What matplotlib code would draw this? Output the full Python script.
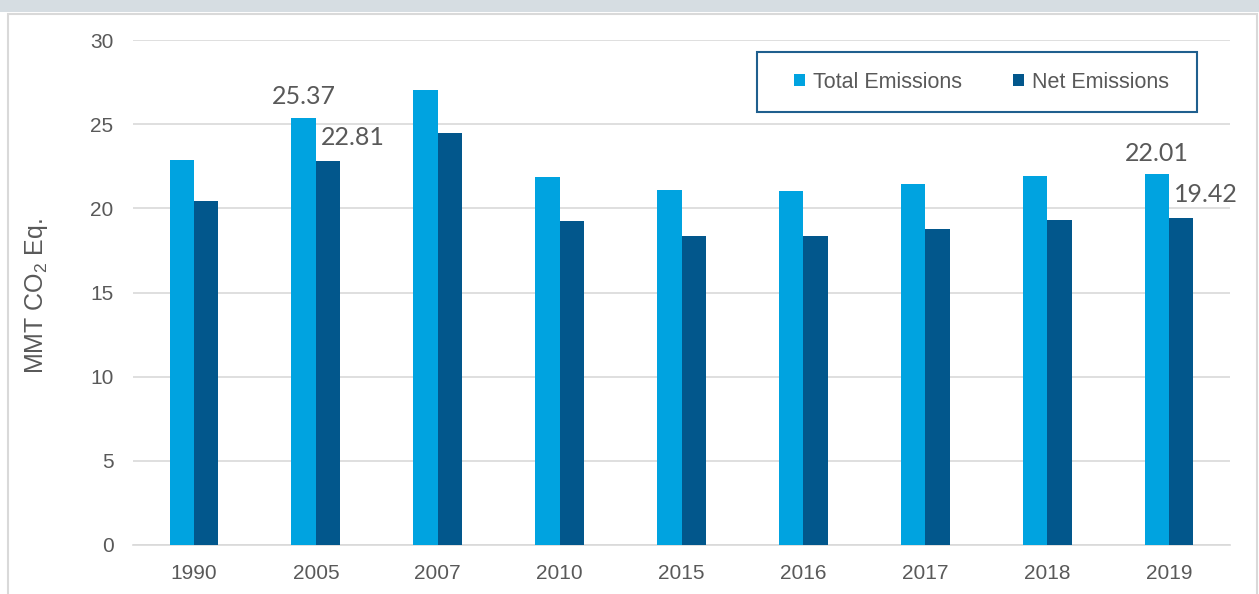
import matplotlib
matplotlib.use("Agg")
import matplotlib.pyplot as plt
import numpy as np
from matplotlib.patches import Rectangle

years = ["1990", "2005", "2007", "2010", "2015", "2016", "2017", "2018", "2019"]
total_emissions = [22.87, 25.37, 27.03, 21.88, 21.09, 21.05, 21.47, 21.90, 22.01]
net_emissions = [20.46, 22.81, 24.48, 19.27, 18.36, 18.36, 18.78, 19.31, 19.42]
labeled_years = ["2005", "2019"]
yticks = [0, 5, 10, 15, 20, 25, 30]

C_TOTAL = "#00A3E0"
C_NET = "#02578C"
TXT = "#595959"

plt.rcParams['font.family'] = ['Liberation Sans', 'DejaVu Sans']
plt.rcParams['mathtext.fontset'] = 'custom'
plt.rcParams['mathtext.rm'] = 'Liberation Sans'
plt.rcParams['mathtext.it'] = 'Liberation Sans'

W, H = 1259, 594
fig = plt.figure(figsize=(W / 100, H / 100), dpi=100)
fig.patch.set_facecolor("white")

# top band and outer frame
fig.patches.append(Rectangle((0, 1 - 12 / H), 1, 12 / H, transform=fig.transFigure,
                             facecolor="#D6DDE2", edgecolor="none", zorder=0))
fig.patches.append(Rectangle((8 / W, -0.05), (1257 - 8) / W, 1 - 14 / H + 0.05,
                             transform=fig.transFigure, facecolor="none",
                             edgecolor="#D9D9D9", linewidth=1.5, zorder=0))

ax = fig.add_axes([133 / W, 1 - 545 / H, (1230 - 133) / W, (545 - 40) / H])
ax.set_facecolor("none")

x = np.arange(len(years))
bw = 0.2
b1 = ax.bar(x - bw / 2, total_emissions, bw, color=C_TOTAL, label="Total Emissions", zorder=3)
b2 = ax.bar(x + bw / 2, net_emissions, bw, color=C_NET, label="Net Emissions", zorder=3)

ax.set_xlim(-0.5, len(years) - 0.5)
ax.set_ylim(0, 30)
ax.set_yticks(yticks)
ax.set_xticks(x)
ax.set_xticklabels(years)
ax.tick_params(axis='both', length=0, labelsize=15, labelcolor=TXT)
ax.tick_params(axis='y', pad=14)
ax.tick_params(axis='x', pad=14)
ax.grid(axis='y', color="#D9D9D9", linewidth=1.2, zorder=0)
for s in ["top", "right", "left"]:
    ax.spines[s].set_visible(False)
ax.spines["bottom"].set_color("#D9D9D9")
ax.spines["bottom"].set_linewidth(1.2)

# data labels
for i, yr in enumerate(years):
    if yr in labeled_years:
        ax.annotate(f"{total_emissions[i]:.2f}", (x[i] - bw / 2, total_emissions[i]),
                    xytext=(0, 7), textcoords="offset points", ha="center", va="bottom",
                    fontsize=18, color=TXT, family=["Lato", "DejaVu Sans"])
        ax.annotate(f"{net_emissions[i]:.2f}", (x[i] + 0.04, net_emissions[i]),
                    xytext=(0, 9), textcoords="offset points", ha="left", va="bottom",
                    fontsize=18, color=TXT, family=["Lato", "DejaVu Sans"])

# y label
fig.text(37 / W, 1 - 296 / H, "MMT CO$_2$ Eq.", rotation=90, ha="center", va="center",
         fontsize=18, color=TXT)

# legend box
x0, x1 = (757 - 133) / 1097, (1197 - 133) / 1097
y0, y1 = (545 - 112) / 505, (545 - 52) / 505
ax.add_patch(Rectangle((x0, y0), x1 - x0, y1 - y0, transform=ax.transAxes,
                       facecolor="white", edgecolor="#1F5F8E", linewidth=1.5, zorder=5))
leg = ax.legend(loc="center", bbox_to_anchor=((x0 + x1) / 2 + 0.004, (y0 + y1) / 2), ncol=2,
                frameon=False, fontsize=15.5, handlelength=0.5, handleheight=0.5,
                handletextpad=0.35, columnspacing=2.4, labelcolor=TXT)
leg.set_zorder(6)

fig.savefig("out.png", dpi=100)
